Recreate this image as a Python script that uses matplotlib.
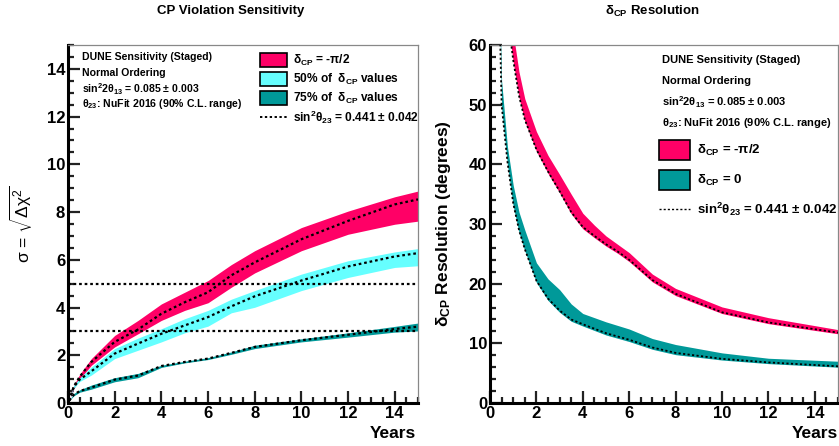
import matplotlib
matplotlib.use("Agg")
import matplotlib.pyplot as plt
from matplotlib.ticker import MultipleLocator
from matplotlib.patches import Rectangle
from matplotlib.lines import Line2D

plt.rcParams['font.family'] = ['Liberation Sans', 'DejaVu Sans']
plt.rcParams['font.weight'] = 'normal'
plt.rcParams['mathtext.fontset'] = 'custom'
plt.rcParams['mathtext.rm'] = 'Liberation Sans'
plt.rcParams['mathtext.it'] = 'Liberation Sans:italic'
plt.rcParams['mathtext.bf'] = 'Liberation Sans:bold'
plt.rcParams['mathtext.default'] = 'bf'

# ---------------- Data: CP violation sensitivity ----------------
cpv_years = [0.05, 0.25, 0.5, 1, 2, 3, 4, 5, 6, 7, 8, 10, 12, 14, 15]
red_hi = [0.1, 0.75, 1.2, 1.86, 2.83, 3.46, 4.15, 4.64, 5.13, 5.8, 6.38, 7.35, 8.04, 8.64, 8.88]
red_lo = [0.1, 0.6, 1.0, 1.58, 2.35, 2.9, 3.46, 3.88, 4.2, 4.85, 5.45, 6.38, 7.07, 7.49, 7.62]
red_mid = [0.1, 0.7, 1.1, 1.72, 2.56, 3.08, 3.74, 4.22, 4.64, 5.35, 5.89, 6.86, 7.63, 8.32, 8.53]
cyan_hi = [0.1, 0.75, 1.05, 1.51, 2.28, 2.72, 3.11, 3.53, 3.88, 4.35, 4.71, 5.4, 5.96, 6.33, 6.47]
cyan_lo = [0.1, 0.62, 0.9, 1.17, 1.86, 2.21, 2.56, 2.94, 3.22, 3.78, 4.01, 4.71, 5.26, 5.68, 5.75]
cyan_mid = [0.1, 0.68, 0.98, 1.33, 2.07, 2.49, 2.9, 3.25, 3.6, 4.05, 4.47, 5.13, 5.72, 6.14, 6.28]
teal_hi = [0.1, 0.4, 0.55, 0.75, 1.06, 1.24, 1.58, 1.75, 1.9, 2.14, 2.42, 2.69, 2.94, 3.21, 3.35]
teal_lo = [0.1, 0.3, 0.45, 0.58, 0.89, 1.06, 1.49, 1.68, 1.82, 2.04, 2.28, 2.56, 2.76, 2.97, 3.02]
teal_mid = [0.1, 0.35, 0.5, 0.65, 0.98, 1.15, 1.55, 1.72, 1.86, 2.1, 2.35, 2.63, 2.86, 3.1, 3.2]
sigma_refs = [3, 5]

# ---------------- Data: delta_CP resolution ----------------
res_red_years = [0.85, 1.0, 1.25, 1.5, 2.0, 2.5, 3.0, 3.5, 4.0, 4.5, 5.0, 5.5, 6.0, 7.0, 8.0, 10, 12, 15]
res_red_mid = [62, 57.5, 51.5, 47.5, 42.5, 38.8, 35.5, 32.0, 29.5, 28.0, 26.6, 25.4, 24.0, 20.6, 18.3, 15.2, 13.5, 11.8]
res_red_hi = [68, 62, 55.5, 51, 45.5, 41.5, 38.3, 35.0, 31.8, 29.8, 28.0, 26.6, 25.2, 21.6, 19.2, 16.1, 14.3, 12.3]
res_red_lo = [61.5, 57.2, 51.2, 47.2, 42.2, 38.5, 35.2, 31.7, 29.2, 27.7, 26.3, 25.1, 23.7, 20.3, 18.0, 15.0, 13.3, 11.6]
res_teal_years = [0.4, 0.5, 0.75, 1.0, 1.25, 1.5, 2.0, 2.5, 3.0, 3.5, 4.0, 5.0, 6.0, 7.0, 8.0, 10, 12, 15]
res_teal_mid = [68, 50, 40.5, 33.5, 29.0, 25.8, 20.5, 17.5, 15.5, 14.0, 13.2, 11.7, 10.6, 9.3, 8.4, 7.4, 6.8, 6.15]
res_teal_hi = [70, 54, 43, 36.5, 32.0, 29.0, 23.5, 20.8, 19.0, 16.6, 15.0, 13.6, 12.4, 10.8, 9.8, 8.4, 7.5, 7.0]
res_teal_lo = [67.5, 49.5, 40.0, 33.0, 28.6, 25.5, 20.2, 17.2, 15.2, 13.7, 12.9, 11.4, 10.3, 9.0, 8.1, 7.2, 6.6, 6.0]

RED = '#ff0066'
CYAN = '#66ffff'
TEAL = '#009999'
DOT = (0, (1.2, 1.3))

W, H = 839, 446
fig = plt.figure(figsize=(W / 100, H / 100), dpi=100)


def px(x, y):
    return x / W, 1 - y / H


def style_axes(ax, xmax, ymax, ymajor, yminor):
    ax.set_xlim(0, xmax)
    ax.set_ylim(0, ymax)
    ax.xaxis.set_major_locator(MultipleLocator(2))
    ax.xaxis.set_minor_locator(MultipleLocator(0.5))
    ax.yaxis.set_major_locator(MultipleLocator(ymajor))
    ax.yaxis.set_minor_locator(MultipleLocator(yminor))
    for s in ['left', 'bottom']:
        ax.spines[s].set_linewidth(2.2)
        ax.spines[s].set_color('black')
    for s in ['top', 'right']:
        ax.spines[s].set_linewidth(0.9)
        ax.spines[s].set_color('#888888')
    ax.tick_params(which='both', direction='in', top=False, right=False, width=1.6, color='#222222')
    ax.tick_params(which='major', length=8.5, labelsize=12, pad=2)
    ax.tick_params(which='minor', length=4.3)
    for lab in ax.get_xticklabels() + ax.get_yticklabels():
        lab.set_fontweight('bold')


# ---------------- Left panel ----------------
ax1 = fig.add_axes([68 / W, 1 - 403 / H, 350 / W, 358 / H])
ax1.fill_between(cpv_years, red_lo, red_hi, color=RED, lw=0, zorder=2)
ax1.fill_between(cpv_years, cyan_lo, cyan_hi, color=CYAN, lw=0, zorder=2)
ax1.fill_between(cpv_years, teal_lo, teal_hi, color=TEAL, lw=0, zorder=2)
for mid in (red_mid, cyan_mid, teal_mid):
    ax1.plot(cpv_years, mid, color='black', ls=DOT, lw=1.6, zorder=3)
for s in sigma_refs:
    ax1.axhline(s, color='black', ls=DOT, lw=1.6, zorder=3)
style_axes(ax1, 15, 15, 2, 0.5)
ax1.set_ylabel(r'$\mathrm{\sigma}$ = $\mathrm{\sqrt{\Delta\chi^2}}$', fontsize=12.5, fontweight='normal')
ax1.yaxis.set_label_coords(-0.095, 0.5)

fig.text(*px(231, 11), 'CP Violation Sensitivity', ha='center', va='center', fontsize=9.5, fontweight='bold')
fig.text(*px(416, 433), 'Years', ha='right', va='center', fontsize=12.5, fontweight='bold')

info_left = ['DUNE Sensitivity (Staged)', 'Normal Ordering',
             'sin$^{2}$2θ$_{13}$ = 0.085 ± 0.003', 'θ$_{23}$: NuFit 2016 (90% C.L. range)']
for txt, yy in zip(info_left, [57, 73, 89, 104]):
    fig.text(*px(82, yy), txt, ha='left', va='center', fontsize=7.6, fontweight='bold')

leg1 = [(RED, 'δ$_{CP}$ = -π/2', 60), (CYAN, '50% of  δ$_{CP}$ values', 79), (TEAL, '75% of  δ$_{CP}$ values', 98)]
for col, txt, yy in leg1:
    x0, y0 = px(260, yy + 7)
    fig.add_artist(Rectangle((x0, y0), 27 / W, 14 / H, transform=fig.transFigure,
                             facecolor=col, edgecolor='black', lw=1.2))
    fig.text(*px(293, yy), txt, ha='left', va='center', fontsize=8.6, fontweight='bold')
fig.add_artist(Line2D([260 / W, 287 / W], [1 - 117 / H] * 2, transform=fig.transFigure,
                      color='black', ls=DOT, lw=1.4))
fig.text(*px(293, 117), 'sin$^{2}$θ$_{23}$ = 0.441 ± 0.042', ha='left', va='center', fontsize=8.6, fontweight='bold')

# ---------------- Right panel ----------------
ax2 = fig.add_axes([490 / W, 1 - 403 / H, 348 / W, 358 / H])
ax2.fill_between(res_red_years, res_red_lo, res_red_hi, color=RED, lw=0, zorder=2)
ax2.fill_between(res_teal_years, res_teal_lo, res_teal_hi, color=TEAL, lw=0, zorder=2)
ax2.plot(res_red_years, res_red_mid, color='black', ls=DOT, lw=1.3, zorder=3)
ax2.plot(res_teal_years, res_teal_mid, color='black', ls=DOT, lw=1.3, zorder=3)
style_axes(ax2, 15, 60, 10, 2)
ax2.set_ylabel('δ$_{CP}$ Resolution (degrees)', fontsize=12.5, fontweight='bold')
ax2.yaxis.set_label_coords(-0.105, 0.5)

fig.text(*px(652, 11), 'δ$_{CP}$ Resolution', ha='center', va='center', fontsize=9.5, fontweight='bold')
fig.text(*px(838, 433), 'Years', ha='right', va='center', fontsize=12.5, fontweight='bold')

info_right = ['DUNE Sensitivity (Staged)', 'Normal Ordering',
              'sin$^{2}$2θ$_{13}$ = 0.085 ± 0.003', 'θ$_{23}$: NuFit 2016 (90% C.L. range)']
for txt, yy in zip(info_right, [60, 81, 102, 123]):
    fig.text(*px(662, yy), txt, ha='left', va='center', fontsize=8, fontweight='bold')

leg2 = [(RED, 'δ$_{CP}$ = -π/2', 150), (TEAL, 'δ$_{CP}$ = 0', 180)]
for col, txt, yy in leg2:
    x0, y0 = px(659, yy + 10)
    fig.add_artist(Rectangle((x0, y0), 31 / W, 20 / H, transform=fig.transFigure,
                             facecolor=col, edgecolor='black', lw=1.2))
    fig.text(*px(697, yy), txt, ha='left', va='center', fontsize=9.5, fontweight='bold')
fig.add_artist(Line2D([659 / W, 690 / W], [1 - 209 / H] * 2, transform=fig.transFigure,
                      color='black', ls=(0, (1.5, 1.5)), lw=1.0))
fig.text(*px(697, 209), 'sin$^{2}$θ$_{23}$ = 0.441 ± 0.042', ha='left', va='center', fontsize=9.5, fontweight='bold')

fig.savefig('out.png', dpi=100)
